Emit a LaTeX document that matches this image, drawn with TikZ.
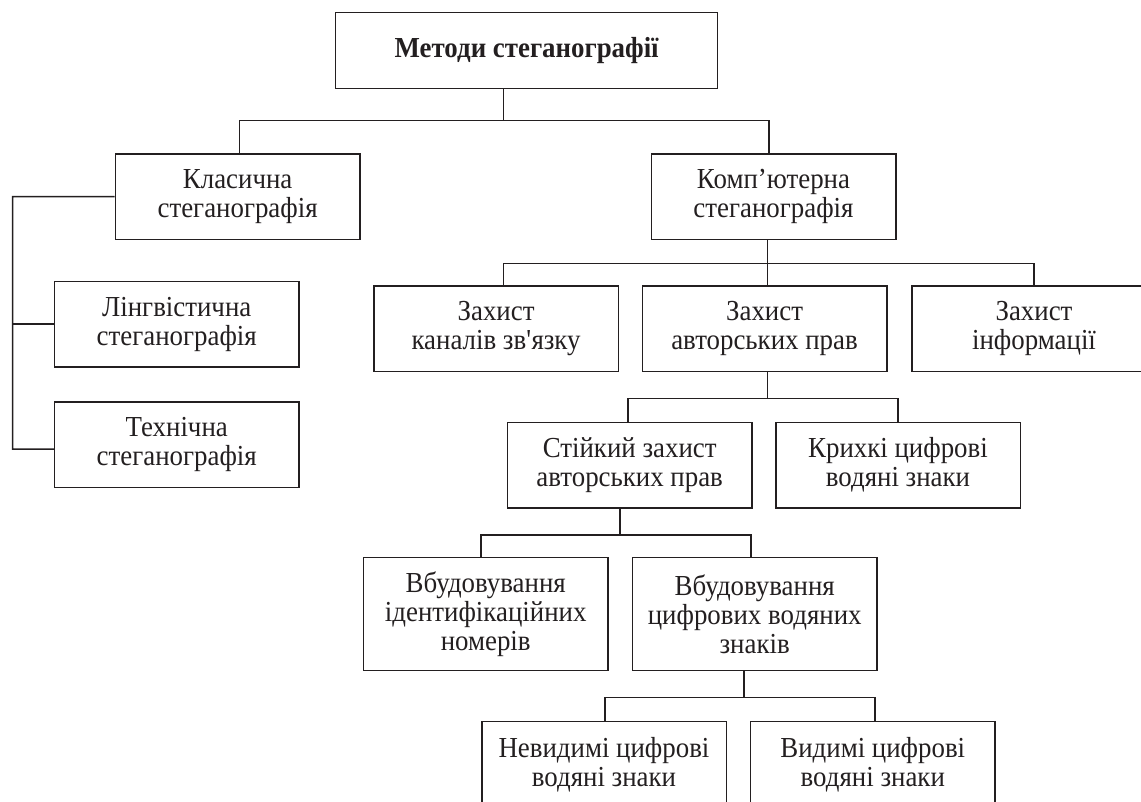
\documentclass[tikz,border=0pt]{standalone}
\usepackage{fontspec}
\setmainfont{Liberation Serif}[FakeStretch=0.927]
\definecolor{ink}{HTML}{231F20}
\begin{document}
\begin{tikzpicture}[x=1pt,y=-1pt,
  box/.style={draw=ink, line width=1.5pt, text=ink, align=center, inner sep=0pt,
    minimum width=244.5pt, minimum height=85.5pt,
    font=\fontsize{29}{29}\selectfont},
  tall/.style={box, minimum height=113pt},
  conn/.style={draw=ink, line width=1.5pt}]
\useasboundingbox (0,0) rectangle (1141,802);
\clip (0,0) rectangle (1141,802);
% nodes
\node[box, minimum width=382pt, minimum height=75.6pt, font=\fontsize{29}{29}\selectfont\bfseries] (top) at (526.7,50.5) {Методи стеганографії};
\node[box] (klas) at (237.65,196.65) {Класична\\стеганографія};
\node[box] (komp) at (773.5,196.65) {Комп’ютерна\\стеганографія};
\node[box] (ling) at (176.75,324.15) {Лінгвістична\\стеганографія};
\node[box] (tech) at (176.75,444.5) {Технічна\\стеганографія};
\node[box] (kanal) at (496.1,328.85) {Захист\\каналів зв\textquotesingle язку};
\node[box] (avtor) at (764.55,328.85) {Захист\\авторських прав};
\node[box] (inform) at (1034,328.85) {Захист\\інформації};
\node[box] (stiik) at (629.7,465) {Стійкий захист\\авторських прав};
\node[box] (kryh) at (898,465) {Крихкі цифрові\\водяні знаки};
\node[tall] (vbid) at (485.7,614.2) {Вбудовування\\ідентифікаційних\\номерів};
\node[tall] (vbcyf) at (754.7,614.2) {Вбудовування\\цифрових водяних\\знаків};
\node[box] (nevyd) at (604,764.4) {Невидимі цифрові\\водяні знаки};
\node[box] (vyd) at (872.8,764.4) {Видимі цифрові\\водяні знаки};
% connector coordinates
\coordinate (t1) at (503.5,120.7);
\coordinate (k1) at (239.3,120.7);
\coordinate (k2) at (769,120.7);
\coordinate (sp) at (12.7,196.7);
\coordinate (tw) at ([yshift=-4.5pt]tech.west);
\coordinate (c0) at (767.5,263.3);
\coordinate (c1) at (503.6,263.3);
\coordinate (c3) at (1034,263.3);
\coordinate (a0) at (767.5,398.3);
\coordinate (a1) at (628,398.3);
\coordinate (a2) at (898,398.3);
\coordinate (s0) at (620.2,535);
\coordinate (s1) at (481,535);
\coordinate (s2) at (751.1,535);
\coordinate (v0) at (744,697.7);
\coordinate (v1) at (605,697.7);
\coordinate (v2) at (875,697.7);
% connectors
\draw[conn] (t1 |- top.south) -- (t1);
\draw[conn] (k1 |- klas.north) -- (k1) -- (k2) -- (k2 |- komp.north);
\draw[conn] (klas.west) -- (sp) -- (sp |- tw) -- (tw);
\draw[conn] (sp |- ling.west) -- (ling.west);
\draw[conn] (c0 |- komp.south) -- (c0);
\draw[conn] (c1 |- kanal.north) -- (c1) -- (c3) -- (c3 |- inform.north);
\draw[conn] (c0) -- (c0 |- avtor.north);
\draw[conn] (a0 |- avtor.south) -- (a0);
\draw[conn] (a1 |- stiik.north) -- (a1) -- (a2) -- (a2 |- kryh.north);
\draw[conn] (s0 |- stiik.south) -- (s0);
\draw[conn] (s1 |- vbid.north) -- (s1) -- (s2) -- (s2 |- vbcyf.north);
\draw[conn] (v0 |- vbcyf.south) -- (v0);
\draw[conn] (v1 |- nevyd.north) -- (v1) -- (v2) -- (v2 |- vyd.north);
\end{tikzpicture}
\end{document}
